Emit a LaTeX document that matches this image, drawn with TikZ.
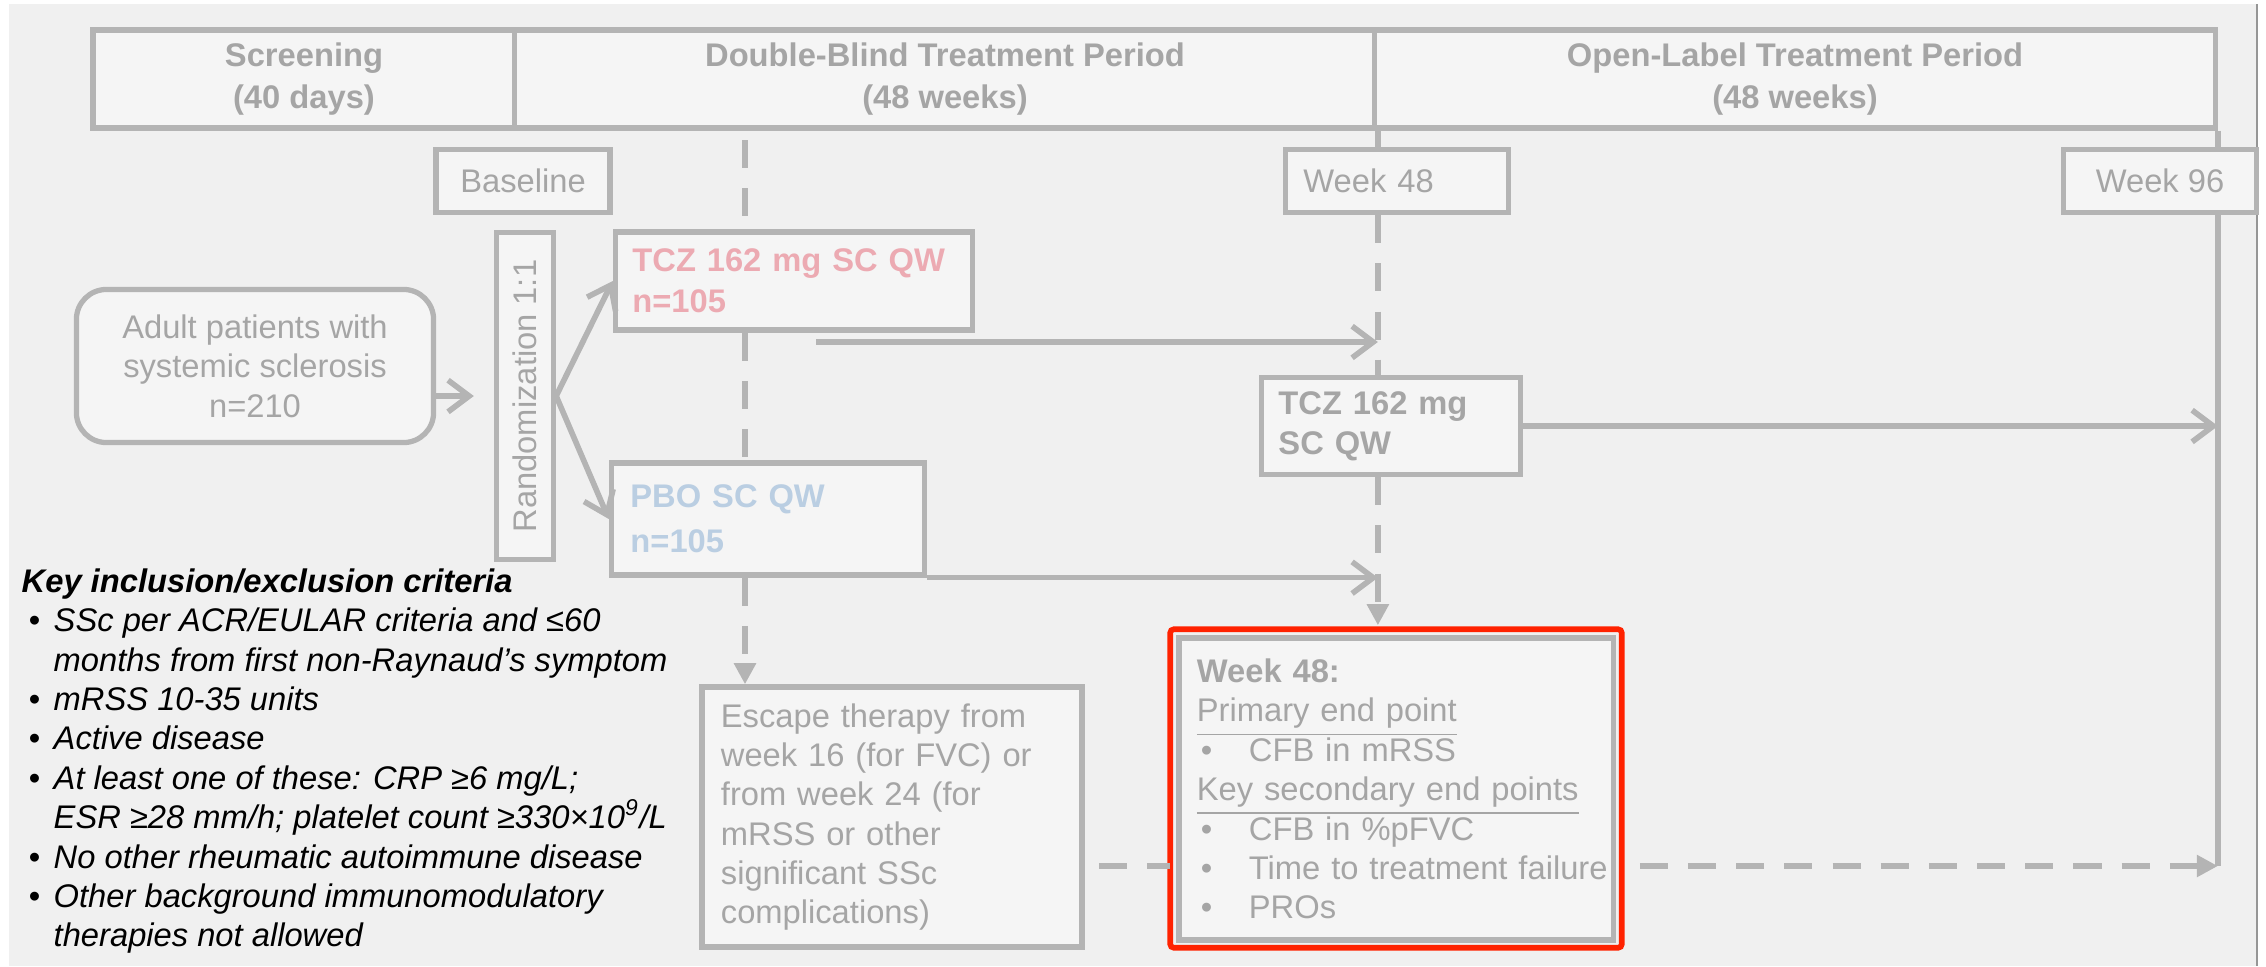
\documentclass[tikz,border=0pt]{standalone}
\usepackage{fontspec}
\setmainfont{Liberation Sans}
\usepackage{graphicx}
\usetikzlibrary{arrows.meta}

\definecolor{sheet}{RGB}{240,240,240}
\definecolor{boxfill}{RGB}{245,245,245}
\definecolor{boxline}{RGB}{180,180,180}
\definecolor{boxtext}{RGB}{165,165,165}
\definecolor{tczpink}{RGB}{236,170,178}
\definecolor{pboblue}{RGB}{186,206,226}
\definecolor{hilite}{RGB}{255,34,0}
\definecolor{framegray}{RGB}{150,150,150}

\newcommand{\bul}{\makebox[0.25cm][l]{\textbullet}}
\newcommand{\epbul}{\makebox[0.52cm][l]{\hspace{0.04cm}\textbullet}}
\newsavebox{\ulbox}
\newcommand{\uln}[1]{\leavevmode\sbox{\ulbox}{#1}\rlap{\rule[-3.8pt]{\wd\ulbox}{0.5pt}}\usebox{\ulbox}}

\begin{document}
\begin{tikzpicture}[x=0.01cm, y=-0.01cm,
        box/.style={draw=boxline, line width=1.5pt, fill=boxfill, text=boxtext, inner sep=0pt,
            font=\fontsize{9.3}{11.2}\selectfont},
        period/.style={box, align=center, minimum height=0.98cm,
            font=\fontsize{9.3}{12.2}\selectfont\bfseries},
        solidline/.style={draw=boxline, line width=1.6pt},
        dashline/.style={solidline, dash pattern=on 8pt off 5.7pt},
        barb/.style={solidline, -{Straight Barb[length=6pt, width=9pt]}},
        tri/.style={-{Triangle[length=6pt, width=6pt]}}]
                    \useasboundingbox (0,0) rectangle (2266,966);
                    \fill[white] (0,0) rectangle (2266,966);
                    \fill[sheet] (9,4) rectangle (2257,966);
                    \draw[framegray, line width=0.6pt] (2257,4) -- (2257,966);

                    \node[period, minimum width=4.22cm] (scr) at (304,79) {Screening\\(40 days)};
                    \node[period, minimum width=8.60cm] (dbl) at (945,79) {Double-Blind Treatment Period\\(48 weeks)};
                    \node[period, minimum width=8.40cm] (opl) at (1795,79) {Open-Label Treatment Period\\(48 weeks)};

                    \node[box, minimum width=1.74cm, minimum height=0.63cm] (base) at (523,181) {Baseline};
                    \node[box, minimum width=2.23cm, minimum height=0.63cm, inner xsep=0.18cm, text width=1.87cm, align=left] (wk48) at (1397,181) {Week 48};
                    \node[box, minimum width=1.93cm, minimum height=0.63cm] (wk96) at (2160,181) {Week 96};

                    \node[box, rounded corners=0.3cm, minimum width=3.57cm, minimum height=1.53cm, align=center] (adult) at (255,366) {Adult patients with\\systemic sclerosis\\n=210};
                    \node[box, minimum width=0.57cm, minimum height=3.27cm] (rand) at (525,396) {\rotatebox{90}{Randomization 1:1}};

                    \node[box, minimum width=3.57cm, minimum height=0.98cm, inner xsep=0.17cm, text width=3.23cm, align=left,
                        text=tczpink, font=\fontsize{9.3}{11.7}\selectfont\bfseries] (tcz) at (794,281) {TCZ 162 mg SC QW\\n=105};
                    \node[box, minimum width=3.13cm, minimum height=1.12cm, inner xsep=0.19cm, text width=2.75cm, align=left,
                        text=pboblue, font=\fontsize{9.3}{12.8}\selectfont\bfseries] (pbo) at (768,519) {PBO SC QW\\n=105};
                    \node[box, minimum width=2.59cm, minimum height=0.97cm, inner xsep=0.17cm, text width=2.25cm, align=left,
                        font=\fontsize{9.3}{11.4}\selectfont\bfseries] (tczol) at (1391,426) {TCZ 162 mg\\SC QW};

                    \node[box, minimum width=3.80cm, minimum height=2.60cm, inner xsep=0.19cm, text width=3.42cm, align=left] (escape) at (892,817)
                        {Escape therapy from\\week 16 (for FVC) or\\from week 24 (for\\mRSS or other\\significant SSc\\complications)};
                    \node[box, minimum width=4.34cm, minimum height=3.02cm, inner xsep=0.18cm, text width=3.98cm, align=left] (outcome) at (1396,789)
                        {{\bfseries Week 48:}\\
                        \uln{Primary end point}\\
                        \epbul CFB in mRSS\\
                        \uln{Key secondary end points}\\
                        \epbul CFB in \%pFVC\\
                        \epbul\mbox{Time to treatment failure}\\
                        \epbul PROs};
                    \draw[hilite, line width=1.6pt, rounded corners=1pt] ([shift={(-6,5)}]outcome.south west) rectangle ([shift={(6,-6)}]outcome.north east);

                    \node[anchor=north west, inner sep=0pt, align=left, text=black,
                        font=\fontsize{9.3}{11.2}\selectfont\itshape] (crit) at (21,568)
                        {{\bfseries Key inclusion/exclusion criteria}\\
                        \hspace*{0.07cm}\bul SSc per ACR/EULAR criteria and ≤60\\
                        \hspace*{0.32cm}months from first non-Raynaud’s symptom\\
                        \hspace*{0.07cm}\bul mRSS 10-35 units\\
                        \hspace*{0.07cm}\bul Active disease\\
                        \hspace*{0.07cm}\bul At least one of these: CRP ≥6 mg/L;\\
                        \hspace*{0.32cm}ESR ≥28 mm/h; platelet count ≥330×10\textsuperscript{9}/L\\
                        \hspace*{0.07cm}\bul No other rheumatic autoimmune disease\\
                        \hspace*{0.07cm}\bul Other background immunomodulatory\\
                        \hspace*{0.32cm}therapies not allowed};

                    \coordinate (blind) at (745,128);
                    \coordinate (tczfrom) at (816,342);
                    \coordinate (lvl) at (0,866);

                    \draw[dashline, shorten <=0.12cm] (blind) -- (blind |- tcz.north);
                    \draw[dashline] (blind |- tcz.south) -- (blind |- pbo.north);
                    \draw[dashline, tri] (blind |- pbo.south) -- (blind |- escape.north);

                    \draw[solidline] (dbl.south east) -- (dbl.south east |- wk48.north);
                    \draw[dashline] (dbl.south east |- wk48.south) -- (dbl.south east |- tczol.north);
                    \draw[dashline, tri, shorten >=0.1cm] (dbl.south east |- tczol.south) -- (dbl.south east |- outcome.north);

                    \draw[solidline] (opl.south east) -- (opl.south east |- wk96.north);
                    \draw[solidline] (opl.south east |- wk96.south) -- (opl.south east |- lvl);

                    \draw[barb, shorten >=0.2cm] (adult.east |- rand.west) -- (rand.west);
                    \draw[barb] (rand.east) -- (tcz.west);
                    \draw[barb] (rand.east) -- (pbo.west);
                    \draw[barb] (tczfrom) -- (tczfrom -| dbl.south east);
                    \draw[barb] (pbo.south east) -- (pbo.south east -| dbl.south east);
                    \draw[barb] (tczol.east) -- (tczol.east -| opl.south east);

                    \draw[dashline, shorten <=0.14cm, shorten >=0.06cm] (escape.east |- lvl) -- (outcome.west |- lvl);
                    \draw[dashline, tri, shorten <=0.24cm] (outcome.east |- lvl) -- (opl.south east |- lvl);
                \end{tikzpicture}
\end{document}
